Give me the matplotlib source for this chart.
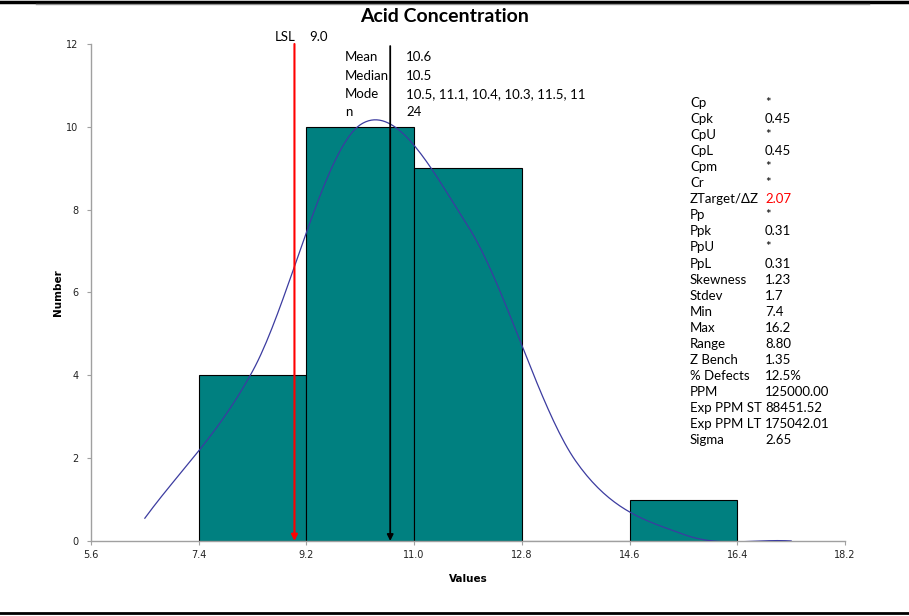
import matplotlib
matplotlib.use("Agg")
import matplotlib.pyplot as plt
import numpy as np
from matplotlib.lines import Line2D

plt.rcParams['font.family'] = ['Lato', 'DejaVu Sans']

# histogram data
bin_edges = [7.4, 9.2, 11.0, 12.8, 14.6, 16.4]
counts = [4, 10, 9, 0, 1]

# fitted curve, read at bin midpoints
curve_x = [6.5, 8.3, 10.1, 11.9, 13.7, 15.5, 17.3]
curve_y = [0.55, 4.1, 10.05, 7.6, 1.93, 0.16, 0.0]

lsl = 9.0
mean = 10.6

xticks = [5.6, 7.4, 9.2, 11.0, 12.8, 14.6, 16.4, 18.2]
yticks = [0, 2, 4, 6, 8, 10, 12]

center_stats = [("Mean", "10.6"), ("Median", "10.5"),
                ("Mode", "10.5, 11.1, 10.4, 10.3, 11.5, 11"), ("n", "24")]

side_labels = ["Cp", "Cpk", "CpU", "CpL", "Cpm", "Cr", "ZTarget/ΔZ", "Pp", "Ppk",
               "PpU", "PpL", "Skewness", "Stdev", "Min", "Max", "Range", "Z Bench",
               "% Defects", "PPM", "Exp PPM ST", "Exp PPM LT", "Sigma"]
side_values = ["*", "0.45", "*", "0.45", "*", "*", "2.07", "*", "0.31", "*", "0.31",
               "1.23", "1.7", "7.4", "16.2", "8.80", "1.35", "12.5%", "125000.00",
               "88451.52", "175042.01", "2.65"]


def smooth(xs, ys, n=40):
    # Catmull-Rom style smoothing like a spreadsheet "smoothed line"
    xs = np.asarray(xs, float)
    ys = np.asarray(ys, float)
    px, py = [], []
    for i in range(len(xs) - 1):
        i0 = max(i - 1, 0)
        i3 = min(i + 2, len(xs) - 1)
        h = xs[i + 1] - xs[i]
        m1 = (ys[i + 1] - ys[i0]) / (xs[i + 1] - xs[i0])
        m2 = (ys[i3] - ys[i]) / (xs[i3] - xs[i])
        t = np.linspace(0, 1, n)
        h00 = 2 * t**3 - 3 * t**2 + 1
        h10 = t**3 - 2 * t**2 + t
        h01 = -2 * t**3 + 3 * t**2
        h11 = t**3 - t**2
        px.append(xs[i] + t * h)
        py.append(h00 * ys[i] + h10 * h * m1 + h01 * ys[i + 1] + h11 * h * m2)
    return np.concatenate(px), np.concatenate(py)


fig = plt.figure(figsize=(9.09, 6.16), dpi=100)
ax = fig.add_axes([0.1001, 0.1218, 0.8295, 0.8068])

widths = np.diff(bin_edges)
ax.bar(bin_edges[:-1], counts, width=widths, align='edge', color='#008080',
       edgecolor='black', linewidth=0.8, zorder=2)

sx, sy = smooth(curve_x, curve_y)
ax.plot(sx, sy, color='#3c3ca0', linewidth=0.9, zorder=3)

ax.annotate('', xy=(lsl, 0), xytext=(lsl, 12),
            arrowprops=dict(arrowstyle='-|>', color='#ff0000', lw=1.5,
                            mutation_scale=9, shrinkA=0, shrinkB=0),
            annotation_clip=False, zorder=4)
ax.annotate('', xy=(mean, 0), xytext=(mean, 11.95),
            arrowprops=dict(arrowstyle='-|>', color='black', lw=1.3,
                            mutation_scale=9, shrinkA=0, shrinkB=0),
            annotation_clip=False, zorder=4)

ax.set_xlim(5.6, 18.2)
ax.set_ylim(0, 12)
ax.set_xticks(xticks, [f"{v:.1f}" for v in xticks])
ax.set_yticks(yticks)
ax.tick_params(labelsize=7, colors='#a0a0a0', labelcolor='#222222', length=3,
               direction='out')
ax.tick_params(axis='y', pad=6)
for lab in ax.get_xticklabels() + ax.get_yticklabels():
    lab.set_family('DejaVu Sans')
for s in ['top', 'right']:
    ax.spines[s].set_visible(False)
for s in ['left', 'bottom']:
    ax.spines[s].set_color('#a0a0a0')
    ax.spines[s].set_linewidth(1.0)

ax.set_xlabel('Values', fontsize=7.5, fontweight='bold', family='DejaVu Sans',
              labelpad=10)
ax.set_ylabel('Number', fontsize=7.5, fontweight='bold', family='DejaVu Sans',
              labelpad=2)

fig.text(0.4895, 1 - 16 / 616, 'Acid Concentration', ha='center', va='center',
         fontsize=14, fontweight='bold')

# LSL label
fig.text(285 / 909, 1 - 37 / 616, 'LSL', ha='center', va='center', fontsize=9.5)
fig.text(319 / 909, 1 - 37 / 616, '9.0', ha='center', va='center', fontsize=9.5)

# center stats block
for i, (k, v) in enumerate(center_stats):
    y = 1 - (57 + i * 18.5) / 616
    fig.text(345 / 909, y, k, ha='left', va='center', fontsize=9.5)
    fig.text(406 / 909, y, v, ha='left', va='center', fontsize=9.5)

# side stats block
for i, (k, v) in enumerate(zip(side_labels, side_values)):
    y = 1 - (103 + i * 16.05) / 616
    fig.text(690 / 909, y, k, ha='left', va='center', fontsize=9.5)
    col = '#ff0000' if k.startswith('ZTarget') else 'black'
    fig.text(765 / 909, y, v, ha='left', va='center', fontsize=9.5, color=col)

# frame lines
fig.add_artist(Line2D([0, 1], [1 - 2 / 616] * 2, color='black', lw=2.5,
                      transform=fig.transFigure))
fig.add_artist(Line2D([36 / 909, 869 / 909], [1 - 4 / 616] * 2, color='#909090',
                      lw=1, transform=fig.transFigure))
fig.add_artist(Line2D([0, 1], [1 - 613 / 616] * 2, color='black', lw=2,
                      transform=fig.transFigure))

fig.savefig('out.png', dpi=100)
